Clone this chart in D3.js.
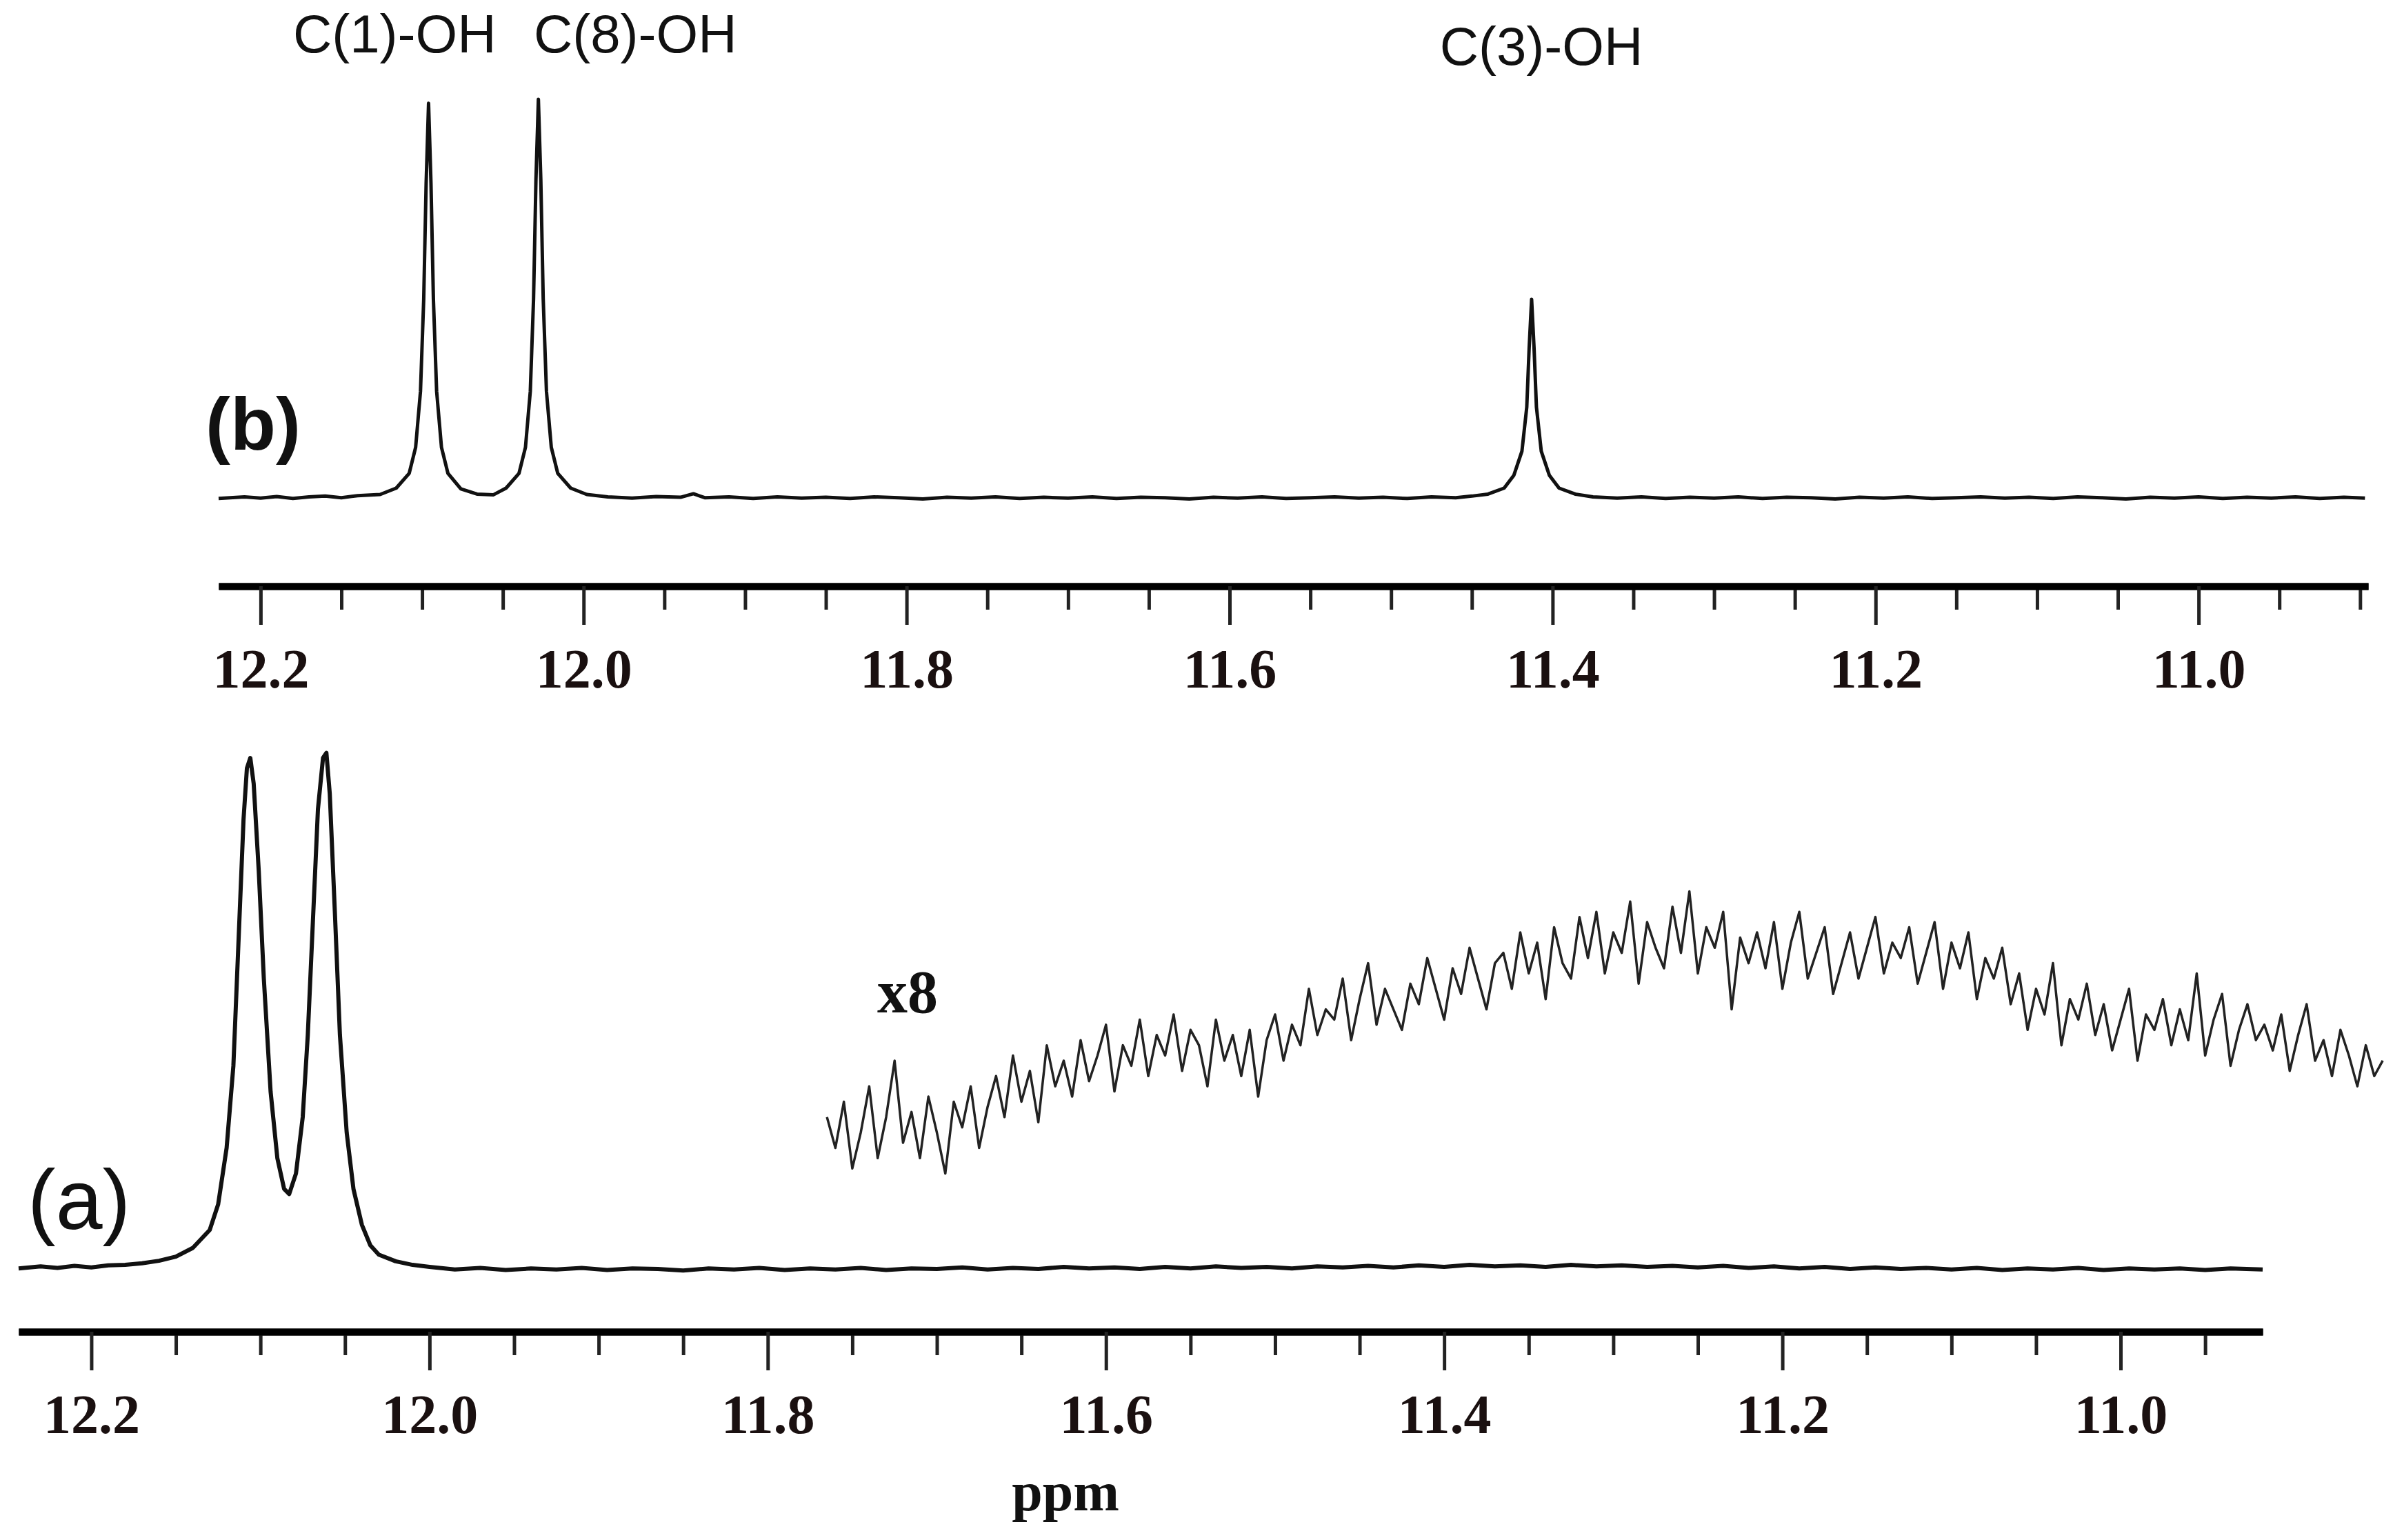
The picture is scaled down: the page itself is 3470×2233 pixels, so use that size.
<!DOCTYPE html>
<html><head><meta charset="utf-8">
<script src="https://cdn.jsdelivr.net/npm/d3@7"></script>
<style>body{margin:0;background:#fff}</style></head>
<body><svg id="c" width="3470" height="2233"></svg>
<script>
// ---- data ----
const majorTicks = [12.2, 12.0, 11.8, 11.6, 11.4, 11.2, 11.0];
const minorTicksTop = [12.15,12.1,12.05,11.95,11.9,11.85,11.75,11.7,11.65,11.55,11.5,11.45,11.35,11.3,11.25,11.15,11.1,11.05,10.95,10.9];
const minorTicksBottom = [12.15,12.1,12.05,11.95,11.9,11.85,11.75,11.7,11.65,11.55,11.5,11.45,11.35,11.3,11.25,11.15,11.1,11.05,10.95];
const peakLabels = [{t:"C(1)-OH", ppm:12.117, row:0}, {t:"C(8)-OH", ppm:11.968, row:0}, {t:"C(3)-OH", ppm:11.407, row:1}];

// spectrum (b): [ppm, intensity]
const specB = [
[12.226,0.2],[12.21,0.6],[12.20,0.3],[12.19,0.7],[12.18,0.2],[12.17,0.6],[12.16,0.8],[12.15,0.4],[12.14,0.9],[12.126,1.2],
[12.116,2.8],[12.108,6.5],[12.104,13],[12.101,27],[12.099,50],[12.0975,79],[12.096,99],[12.0945,79],[12.093,50],[12.091,27],
[12.088,13],[12.084,6.5],[12.076,2.6],[12.066,1.3],[12.056,1.1],[12.048,2.8],[12.040,6.5],[12.036,13],[12.033,27],[12.031,50],
[12.0295,80],[12.028,100],[12.0265,80],[12.025,50],[12.023,27],[12.020,13],[12.016,6.5],[12.008,2.8],[11.998,1.2],[11.985,0.6],
[11.97,0.3],[11.955,0.7],[11.94,0.5],[11.932,1.4],[11.925,0.4],[11.91,0.6],[11.895,0.2],[11.88,0.6],[11.865,0.3],[11.85,0.5],
[11.835,0.2],[11.82,0.6],[11.805,0.4],[11.79,0.1],[11.775,0.5],[11.76,0.3],[11.745,0.6],[11.73,0.2],[11.715,0.5],[11.70,0.3],
[11.685,0.6],[11.67,0.2],[11.655,0.5],[11.64,0.4],[11.625,0.1],[11.61,0.5],[11.595,0.3],[11.58,0.6],[11.565,0.2],[11.55,0.4],
[11.535,0.6],[11.52,0.3],[11.505,0.5],[11.49,0.2],[11.475,0.6],[11.46,0.4],[11.45,0.8],[11.44,1.3],[11.43,2.8],[11.424,6],
[11.419,12],[11.416,23],[11.4145,38],[11.413,50],[11.4115,38],[11.410,23],[11.407,12],[11.402,6],[11.396,2.8],[11.386,1.3],
[11.375,0.6],[11.36,0.3],[11.345,0.6],[11.33,0.2],[11.315,0.5],[11.30,0.3],[11.285,0.6],[11.27,0.2],[11.255,0.5],[11.24,0.4],
[11.225,0.1],[11.21,0.5],[11.195,0.3],[11.18,0.6],[11.165,0.2],[11.15,0.4],[11.135,0.6],[11.12,0.3],[11.105,0.5],[11.09,0.2],
[11.075,0.6],[11.06,0.4],[11.045,0.1],[11.03,0.5],[11.015,0.3],[11.00,0.6],[10.985,0.2],[10.97,0.5],[10.955,0.3],[10.94,0.6],
[10.925,0.2],[10.91,0.5],[10.897,0.3]];

// spectrum (a): [ppm, intensity]
const specA = [
[12.243,0.5],[12.23,0.9],[12.22,0.6],[12.21,1.0],[12.20,0.7],[12.19,1.1],[12.18,1.2],[12.17,1.5],[12.16,2.0],[12.15,2.8],
[12.14,4.5],[12.13,8],[12.125,13],[12.12,24],[12.116,40],[12.113,64],[12.110,88],[12.108,98],[12.106,100],[12.104,95],
[12.101,78],[12.098,57],[12.094,35],[12.09,22],[12.086,16],[12.083,15],[12.079,19],[12.075,30],[12.072,46],[12.069,68],
[12.066,90],[12.063,100],[12.061,101],[12.059,93],[12.056,70],[12.053,46],[12.049,27],[12.045,16],[12.04,9],[12.035,5],
[12.03,3.2],[12.02,1.9],[12.01,1.2],[12.00,0.8],[11.985,0.3],[11.97,0.6],[11.955,0.2],[11.94,0.5],[11.925,0.3],[11.91,0.6],
[11.895,0.2],[11.88,0.5],[11.865,0.4],[11.85,0.1],[11.835,0.5],[11.82,0.3],[11.805,0.6],[11.79,0.2],[11.775,0.5],[11.76,0.3],
[11.745,0.6],[11.73,0.2],[11.715,0.5],[11.70,0.4],[11.685,0.7],[11.67,0.3],[11.655,0.6],[11.64,0.4],[11.625,0.8],[11.61,0.5],
[11.595,0.7],[11.58,0.4],[11.565,0.8],[11.55,0.5],[11.535,0.9],[11.52,0.6],[11.505,0.8],[11.49,0.5],[11.475,0.9],[11.46,0.7],
[11.445,1.0],[11.43,0.7],[11.415,1.1],[11.40,0.8],[11.385,1.2],[11.37,0.9],[11.355,1.1],[11.34,0.8],[11.325,1.2],[11.31,0.9],
[11.295,1.1],[11.28,0.8],[11.265,1.0],[11.25,0.7],[11.235,1.0],[11.22,0.6],[11.205,0.9],[11.19,0.5],[11.175,0.8],[11.16,0.4],
[11.145,0.7],[11.13,0.4],[11.115,0.6],[11.10,0.3],[11.085,0.6],[11.07,0.2],[11.055,0.5],[11.04,0.3],[11.025,0.6],[11.01,0.2],
[10.995,0.5],[10.98,0.3],[10.965,0.5],[10.95,0.2],[10.935,0.5],[10.916,0.3]];

// x8 expansion: start ppm, step, values (same intensity units as spectrum (a))
const x8Start = 11.765, x8Step = -0.005;
const x8Values = [
30,24,33,20,27,36,22,30,41,25, 31,22,34,27,19,33,28,36,24,32,
38,30,42,33,39,29,44,36,41,34, 45,37,42,48,35,44,40,49,38,46,
42,50,39,47,44,36,49,41,46,38, 47,34,45,50,41,48,44,55,46,51,
49,57,45,53,60,48,55,51,47,56, 52,61,55,49,59,54,63,57,51,60,
62,55,66,58,64,53,67,60,57,69, 61,70,58,66,62,72,56,68,63,59,
71,62,74,58,67,63,70,51,65,60, 66,59,68,55,64,70,57,62,67,54,
60,66,57,63,69,58,64,61,67,56, 62,68,55,64,59,66,53,61,57,63,
52,58,47,55,50,60,44,53,49,56, 46,52,43,49,55,41,50,47,53,44,
51,45,58,42,49,54,40,47,52,45, 48,43,50,39,46,52,41,45,38,47,
42,36,44,38,41];

// ---- drawing ----
const svg = d3.select("#c");
const xTop = d3.scaleLinear().domain([12.226, 10.895]).range([317, 3434]);
const yTop = d3.scaleLinear().domain([0, 100]).range([724, 144]);
const xBot = d3.scaleLinear().domain([12.243, 10.916]).range([27, 3281]);
const yBot = d3.scaleLinear().domain([0, 100]).range([1843, 1099]);

const lineTop = d3.line().x(d=>xTop(d[0])).y(d=>yTop(d[1]));
const lineBot = d3.line().x(d=>xBot(d[0])).y(d=>yBot(d[1]));

svg.append("path").attr("d", lineTop(specB)).attr("fill","none").attr("stroke","#111").attr("stroke-width",5).attr("stroke-linejoin","round");
svg.append("path").attr("d", lineBot(specA)).attr("fill","none").attr("stroke","#111").attr("stroke-width",6).attr("stroke-linejoin","round");
const x8Pts = x8Values.map((v,i)=>[x8Start + i*x8Step, v]);
svg.append("path").attr("d", lineBot(x8Pts)).attr("fill","none").attr("stroke","#222").attr("stroke-width",3.5).attr("stroke-linejoin","round");

function drawAxis(x, y, minors) {
  const g = svg.append("g").attr("transform",`translate(0,${y})`);
  g.call(d3.axisBottom(x).tickValues(minors).tickSize(34).tickSizeOuter(0).tickFormat(""));
  const gm = svg.append("g").attr("transform",`translate(0,${y})`);
  gm.call(d3.axisBottom(x).tickValues(majorTicks).tickSize(56).tickSizeOuter(0).tickFormat(d3.format(".1f")).tickPadding(34));
  svg.selectAll("g .domain").attr("stroke","#000").attr("stroke-width",10);
  svg.selectAll("g .tick line").attr("stroke","#222").attr("stroke-width",5);
  gm.selectAll(".tick text").attr("font-family","Liberation Serif").attr("font-weight","bold")
    .attr("font-size",80).attr("fill","#1a1010");
}
drawAxis(xTop, 850, minorTicksTop);
drawAxis(xBot, 1931, minorTicksBottom);

svg.selectAll(".plabel").data(peakLabels).enter().append("text")
  .attr("x", d=>xTop(d.ppm)).attr("y", d=> d.row ? 94 : 76)
  .attr("text-anchor","middle").attr("font-family","Liberation Sans").attr("font-size",78).attr("fill","#111").text(d=>d.t);

svg.append("text").attr("x",298).attr("y",652).attr("font-family","Liberation Sans").attr("font-weight","bold").attr("font-size",108).attr("fill","#111").text("(b)");
svg.append("text").attr("x",40).attr("y",1782).attr("font-family","Liberation Sans").attr("font-size",122).attr("fill","#111").text("(a)");
svg.append("text").attr("x",1272).attr("y",1468).attr("font-family","Liberation Serif").attr("font-weight","bold").attr("font-size",88).attr("fill","#111").text("x8");
svg.append("text").attr("x",1545).attr("y",2190).attr("text-anchor","middle").attr("font-family","Liberation Serif").attr("font-weight","bold").attr("font-size",80).attr("fill","#111").text("ppm");
</script></body></html>
